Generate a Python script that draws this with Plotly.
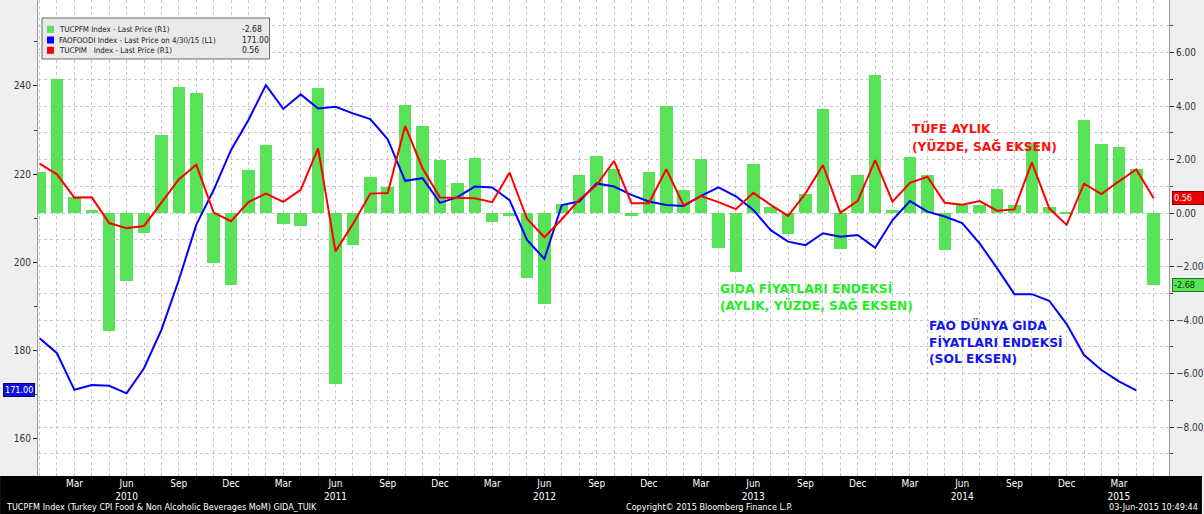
import pandas as pd
import plotly.graph_objects as go

# ---------------- data ----------------
months = pd.date_range("2010-01-01", "2015-05-01", freq="MS")
month_abbr = [d.strftime("%b") for d in months]
month_year = [d.year for d in months]
month_num = [d.month for d in months]

# TUCPFM Index: Turkey CPI Food & Non Alcoholic Beverages MoM (%) - right axis
tucpfm = [1.54, 5.00, 0.59, 0.12, -4.40, -2.53, -0.74, 2.94, 4.71, 4.50, -1.88, -2.68,
          1.60, 2.54, -0.41, -0.47, 4.69, -6.40, -1.19, 1.36, 0.97, 4.03, 3.25, 1.97,
          1.12, 2.08, -0.33, -0.12, -2.42, -3.41, 0.34, 1.43, 2.13, 1.65, -0.12, 1.53,
          4.00, 0.88, 2.04, -1.32, -2.20, 1.82, 0.22, -0.78, 0.72, 3.90, -1.34, 1.43,
          5.15, 0.10, 2.09, 1.42, -1.37, 0.31, 0.31, 0.89, 0.30, 2.63, 0.24, 0.03,
          3.50, 2.58, 2.48, 1.64, -2.68]

# TUCPIM Index: Turkey CPI MoM (%) - right axis
tucpim = [1.85, 1.45, 0.58, 0.59, -0.37, -0.56, -0.48, 0.40, 1.26, 1.81, 0.02, -0.30,
          0.41, 0.73, 0.42, 0.87, 2.42, -1.43, -0.41, 0.73, 0.75, 3.26, 1.68, 0.58,
          0.56, 0.56, 0.41, 1.52, -0.21, -0.90, -0.23, 0.50, 1.05, 1.95, 0.37, 0.37,
          1.64, 0.29, 0.64, 0.41, 0.15, 0.76, 0.31, -0.10, 0.74, 1.80, 0.01, 0.46,
          1.98, 0.43, 1.13, 1.36, 0.39, 0.31, 0.45, 0.09, 0.14, 1.90, 0.18, -0.44,
          1.10, 0.71, 1.19, 1.63, 0.56]

# FAOFOODI Index: FAO world food price index - left axis (last value Apr 2015)
faofoodi = [182.8, 179.4, 171.1, 172.2, 172.0, 170.3, 176.0, 184.7, 196.0, 208.5, 216.4, 225.5,
            232.3, 240.2, 234.8, 238.1, 234.9, 235.3, 233.8, 232.5, 227.9, 218.5, 219.1, 213.5,
            214.8, 217.2, 217.0, 214.1, 205.1, 200.8, 213.0, 213.8, 217.9, 217.2, 215.3, 213.8,
            213.0, 212.8, 215.1, 217.0, 215.0, 211.9, 207.3, 204.7, 203.9, 206.6, 205.8, 206.2,
            203.3, 209.6, 213.9, 211.5, 210.4, 208.9, 204.3, 198.7, 192.8, 192.8, 191.3, 186.0,
            179.0, 175.6, 173.0, 171.0, None]

legend_names = ["TUCPFM Index - Last Price (R1)",
                "FAOFOODI Index - Last Price on 4/30/15 (L1)",
                "TUCPIM&nbsp;&nbsp; Index - Last Price (R1)"]

x_idx = list(range(len(months)))
tick_idx = [i for i in x_idx if month_num[i] in (3, 6, 9, 12)]
years_with_jun = {month_year[i] for i in tick_idx if month_num[i] == 6}
last_tick_of_year = {}
for i in tick_idx:
    last_tick_of_year[month_year[i]] = i
tick_txt = []
for i in tick_idx:
    y = month_year[i]
    show_year = (month_num[i] == 6) or (y not in years_with_jun and last_tick_of_year[y] == i)
    tick_txt.append(month_abbr[i] + ("<br>" + str(y) if show_year else ""))

# ---------------- style ----------------
W, H = 1204, 514
L, R, T, B = 38, 1171, 0, 476
def px(x):
    return (x - L) / (R - L)
def py(y):
    return (B - y) / (B - T)

BAR_C = "#58e258"
RED = "#ff0000"
BLUE = "#0000ff"
NARROW = "Liberation Sans Narrow, DejaVu Sans Condensed, Liberation Sans, Arial"
LABEL_F = "DejaVu Sans, Verdana, sans-serif"
GRID = "#c8c8c8"

fig = go.Figure()
fig.add_trace(go.Bar(x=x_idx, y=tucpfm, width=0.72, marker=dict(color=BAR_C, line=dict(width=0)),
                     yaxis="y", name=legend_names[0]))
fig.add_trace(go.Scatter(x=x_idx, y=faofoodi, mode="lines", line=dict(color=BLUE, width=2),
                         yaxis="y2", name=legend_names[1]))
fig.add_trace(go.Scatter(x=x_idx, y=tucpim, mode="lines", line=dict(color=RED, width=2),
                         yaxis="y3", name=legend_names[2]))

pct_range = [-9.83, 7.97]
fig.update_layout(
    width=W, height=H,
    margin=dict(l=L, r=W - R, t=T, b=H - B, pad=0),
    paper_bgcolor="#efefef", plot_bgcolor="#ffffff",
    showlegend=False, bargap=0,
    font=dict(family=NARROW, size=10, color="#333333"),
    xaxis=dict(range=[-0.09, 64.88], tickmode="array", tickvals=tick_idx, ticktext=tick_txt,
               tickfont=dict(color="#ffffff", size=10, family=NARROW), ticks="",
               showgrid=True, gridcolor=GRID, griddash="dot", gridwidth=1,
               minor=dict(dtick=1, tick0=0, showgrid=True, gridcolor=GRID, griddash="dot",
                          ticks="inside", ticklen=3, tickcolor="#bbbbbb"),
               zeroline=False, showline=False, fixedrange=True),
    yaxis=dict(side="right", range=pct_range, dtick=2, tick0=0, tickformat=".2f",
               ticks="outside", ticklen=4, tickcolor="#222222",
               showgrid=True, gridcolor=GRID, griddash="dot",
               minor=dict(dtick=1, tick0=0, showgrid=True, gridcolor=GRID, griddash="dot",
                          ticks="outside", ticklen=3, tickcolor="#444444"),
               zeroline=False, showline=True, linecolor="#999999", linewidth=1,
               tickfont=dict(size=10, family=NARROW, color="#333333")),
    yaxis2=dict(side="left", overlaying="y", range=[151.56, 259.5], dtick=20, tick0=0,
                ticks="outside", ticklen=4, tickcolor="#222222", showgrid=False,
                minor=dict(dtick=10, tick0=0, ticks="outside", ticklen=3, tickcolor="#444444"),
                zeroline=False, showline=True, linecolor="#999999", linewidth=1,
                tickfont=dict(size=10, family=NARROW, color="#333333")),
    yaxis3=dict(overlaying="y", side="right", range=pct_range, visible=False),
)

shapes = []
# black bottom band
shapes.append(dict(type="rect", xref="paper", yref="paper", x0=px(0), x1=px(W),
                   y0=py(H), y1=py(B), fillcolor="#000000", line=dict(width=0), layer="below"))
# legend box
shapes.append(dict(type="rect", xref="paper", yref="paper", x0=px(42), x1=px(270),
                   y0=py(59), y1=py(18), fillcolor="#e9e9e9",
                   line=dict(color="#666666", width=1), layer="above"))
leg_colors = [BAR_C, BLUE, RED]
leg_rows = [29.3, 40, 50.3]
leg_vals = [f"{tucpfm[-1]:.2f}", f"{faofoodi[-2]:.2f}", f"{tucpim[-1]:.2f}"]
annotations = []
for c, yy, nm, v in zip(leg_colors, leg_rows, legend_names, leg_vals):
    shapes.append(dict(type="rect", xref="paper", yref="paper", x0=px(47), x1=px(54),
                       y0=py(yy + 3.5), y1=py(yy - 3.5), fillcolor=c, line=dict(width=0),
                       layer="above"))
    annotations.append(dict(xref="paper", yref="paper", x=px(57), y=py(yy), text=nm,
                            showarrow=False, xanchor="left", yanchor="middle",
                            font=dict(size=7.9, family=NARROW, color="#222222")))
    annotations.append(dict(xref="paper", yref="paper", x=px(240), y=py(yy), text=v,
                            showarrow=False, xanchor="left", yanchor="middle",
                            font=dict(size=8.5, family=NARROW, color="#222222")))

# chart labels
def lab(text, x, y, color):
    annotations.append(dict(xref="paper", yref="paper", x=px(x), y=py(y), text="<b>" + text + "</b>",
                            showarrow=False, xanchor="left", yanchor="middle",
                            font=dict(size=12.3, family=LABEL_F, color=color)))
lab("TÜFE AYLIK", 912, 128, "#ff1010")
lab("(YÜZDE, SAĞ EKSEN)", 912, 146, "#ff1010")
lab("GIDA FİYATLARI ENDEKSİ", 719, 288, "#22ee22")
lab("(AYLIK, YÜZDE, SAĞ EKSEN)", 719, 306, "#22ee22")
lab("FAO DÜNYA GIDA", 929, 325, "#1515ee")
lab("FİYATLARI ENDEKSİ", 929, 342.7, "#1515ee")
lab("(SOL EKSEN)", 929, 359.3, "#1515ee")

# last-value badges
annotations.append(dict(xref="paper", yref="y2", x=px(19), y=faofoodi[-2],
                        text=f"{faofoodi[-2]:.2f}", showarrow=False, xanchor="center",
                        yanchor="middle", bgcolor="#1111dd", bordercolor="#000066",
                        borderwidth=1, borderpad=1,
                        font=dict(size=9, family=NARROW, color="#ffffff")))
annotations.append(dict(xref="paper", yref="y", x=px(1174), y=tucpim[-1],
                        text=f"{tucpim[-1]:.2f}&nbsp;&nbsp;&nbsp;&nbsp;", showarrow=False, xanchor="left",
                        yanchor="middle", bgcolor="#ee0000", bordercolor="#880000",
                        borderwidth=1, borderpad=1,
                        font=dict(size=9, family=NARROW, color="#ffffff")))
annotations.append(dict(xref="paper", yref="y", x=px(1174), y=tucpfm[-1],
                        text=f"{tucpfm[-1]:.2f}&nbsp;&nbsp;&nbsp;", showarrow=False, xanchor="left",
                        yanchor="middle", bgcolor=BAR_C, bordercolor="#227722",
                        borderwidth=1, borderpad=1,
                        font=dict(size=9, family=NARROW, color="#003300")))

# footer
annotations.append(dict(xref="paper", yref="paper", x=px(4), y=py(507), showarrow=False,
                        xanchor="left", yanchor="middle",
                        text="TUCPFM Index (Turkey CPI Food & Non Alcoholic Beverages MoM) GIDA_TUIK",
                        font=dict(size=9, family=NARROW, color="#ffffff")))
annotations.append(dict(xref="paper", yref="paper", x=px(711), y=py(507), showarrow=False,
                        xanchor="center", yanchor="middle",
                        text="Copyright© 2015 Bloomberg Finance L.P.",
                        font=dict(size=9, family=NARROW, color="#ffffff")))
annotations.append(dict(xref="paper", yref="paper", x=px(1202), y=py(507), showarrow=False,
                        xanchor="right", yanchor="middle",
                        text="03-Jun-2015 10:49:44",
                        font=dict(size=9, family=NARROW, color="#ffffff")))

fig.update_layout(shapes=shapes, annotations=annotations)
fig.write_html("out.html", config={"displayModeBar": False},
               post_script="document.body.style.margin='0';document.body.style.padding='0';")
